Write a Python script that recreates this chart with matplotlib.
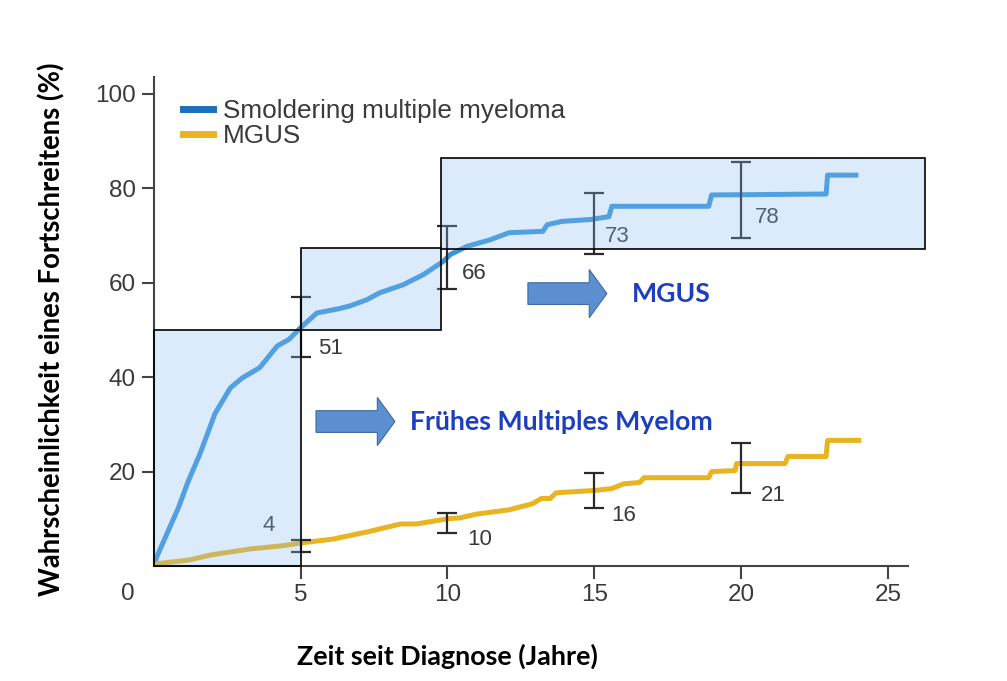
import numpy as np
import matplotlib.pyplot as plt
from matplotlib.patches import Rectangle, FancyArrow
from matplotlib.lines import Line2D

plt.rcParams['font.family'] = ['Liberation Sans', 'DejaVu Sans']

# Kaplan-Meier style curves (years, %)
smm_x = [0, 0.1, 0.44, 0.83, 1.17, 1.57, 2.08, 2.6, 3.0, 3.6, 4.2, 4.6, 5.0, 5.55, 6.3, 6.68,
         7.25, 7.7, 8.5, 9.17, 9.85, 10.1, 10.66, 11.45, 12.1, 13.25, 13.4, 13.9, 14.86, 15.5,
         15.6, 18.9, 19.0, 22.9, 22.95, 24.0]
smm_y = [0, 2, 6.8, 12.3, 18, 23.8, 32.3, 37.7, 39.8, 42, 46.6, 48, 50.5, 53.6, 54.5, 55.1,
         56.4, 57.9, 59.6, 61.7, 64.5, 66, 67.7, 69.1, 70.6, 70.9, 72.3, 73.0, 73.4, 74,
         76.2, 76.2, 78.6, 78.8, 82.8, 82.8]

mgus_x = [0, 1.23, 1.9, 3.27, 4.4, 5.04, 6.1, 7.25, 8.4, 8.95, 10, 10.43, 11, 12.1, 12.9,
          13.2, 13.5, 13.7, 15, 15.6, 16.0, 16.55, 16.7, 18.9, 19.0, 19.8, 19.85, 21.5, 21.6,
          22.9, 22.95, 24.1]
mgus_y = [0.4, 1.3, 2.3, 3.6, 4.3, 4.9, 5.7, 7.2, 8.9, 8.9, 10, 10.2, 11, 11.9, 13.2,
          14.3, 14.3, 15.5, 16, 16.4, 17.4, 17.7, 18.7, 18.7, 20, 20.2, 21.7, 21.7, 23.2,
          23.2, 26.6, 26.6]

# confidence intervals at 5, 10, 15, 20 years
ci_years = [5, 10, 15, 20]
smm_lo = [44.3, 58.7, 66.0, 69.4]
smm_hi = [57.0, 72.1, 79.1, 85.5]
smm_labels = ['51', '66', '73', '78']
mgus_lo = [3.0, 7.0, 12.3, 15.5]
mgus_hi = [5.5, 11.3, 19.6, 26.0]
mgus_labels = ['4', '10', '16', '21']

# shaded phases (x0, x1, y0, y1)
boxes = [(0, 5, 0, 50), (5, 9.78, 50, 67.4), (9.78, 26.27, 67.2, 86.4)]

BLUE = '#3a93d8'
GOLD = '#e8b420'
TXT = '#3a3a3a'

fig = plt.figure(figsize=(10.07, 6.81), dpi=100)
ax = fig.add_axes([0.1529, 0.1689, 0.7488, 0.7181])

ax.plot(smm_x, smm_y, color=BLUE, lw=3.6, solid_capstyle='butt', zorder=2)
ax.plot(mgus_x, mgus_y, color=GOLD, lw=3.6, solid_capstyle='butt', zorder=2)

for lo, hi in [(smm_lo, smm_hi), (mgus_lo, mgus_hi)]:
  lo = np.array(lo)
  hi = np.array(hi)
  mid = (lo + hi) / 2
  ax.errorbar(ci_years, mid, yerr=[mid - lo, hi - mid], fmt='none', ecolor='#2a2a2a',
              elinewidth=1.6, capsize=7.5, capthick=1.6, zorder=3)

# number labels next to the intervals
smm_lab_pos = [(6.0, 46.0), (10.9, 62.0), (15.8, 69.8), (20.9, 73.8)]
mgus_lab_pos = [(3.9, 8.5), (11.1, 5.7), (16.0, 10.6), (21.1, 14.9)]
for (px, py), s in zip(smm_lab_pos + mgus_lab_pos, smm_labels + mgus_labels):
  ax.text(px, py, s, fontsize=16, color=TXT, ha='center', va='center', zorder=3)

for x0, x1, y0, y1 in boxes:
  ax.add_patch(Rectangle((x0, y0), x1 - x0, y1 - y0, facecolor=(0.55, 0.75, 0.95, 0.3),
                         edgecolor='black', lw=1.2, zorder=4, clip_on=False))

# block arrows + annotations
arrow_kw = dict(width=4.6, head_width=10.2, length_includes_head=True,
                facecolor='#5b8fd0', edgecolor='#3f6c9c', lw=0.8, zorder=5, clip_on=False)
ax.add_patch(FancyArrow(5.52, 30.6, 2.69, 0, head_length=0.6, **arrow_kw))
ax.add_patch(FancyArrow(12.74, 57.7, 2.69, 0, head_length=0.6, **arrow_kw))
ax.text(8.72, 30.6, 'Frühes Multiples Myelom', fontsize=19.2, fontweight='bold', color='#1c3fc0',
        family='Lato', va='center', ha='left', zorder=5)
ax.text(16.29, 57.7, 'MGUS', fontsize=19.2, fontweight='bold', color='#1c3fc0',
        family='Lato', va='center', ha='left', zorder=5)

ax.set_xlim(0, 25.69)
ax.set_ylim(0, 103.6)
ax.set_xticks([5, 10, 15, 20, 25])
ax.set_yticks([20, 40, 60, 80, 100])
ax.text(-0.9, -3.5, '0', fontsize=17.5, color=TXT, ha='center', va='top', clip_on=False)

for side in ['top', 'right']:
  ax.spines[side].set_visible(False)
for side in ['left', 'bottom']:
  ax.spines[side].set_color('#444444')
  ax.spines[side].set_linewidth(1.5)
ax.tick_params(direction='out', length=9, width=1.5, color='#444444',
               labelsize=17.5, labelcolor=TXT, pad=4)

handles = [Line2D([], [], color='#1a6fc0', lw=5), Line2D([], [], color=GOLD, lw=5)]
ax.legend(handles, ['Smoldering multiple myeloma', 'MGUS'], loc='upper left',
          bbox_to_anchor=(0.007, 1.003), frameon=False, fontsize=18.8, handlelength=1.15,
          handletextpad=0.4, labelspacing=0.05, labelcolor=TXT)

fig.text(52 / 1007, 1 - 329 / 681, 'Wahrscheinlichkeit eines Fortschreitens (%)', rotation=90,
         fontsize=19.8, fontweight='bold', family='Lato', ha='center', va='center')
fig.text(447 / 1007, 1 - 656 / 681, 'Zeit seit Diagnose (Jahre)', fontsize=19.4,
         fontweight='bold', family='Lato', ha='center', va='center')

fig.savefig('out.png', dpi=100)
